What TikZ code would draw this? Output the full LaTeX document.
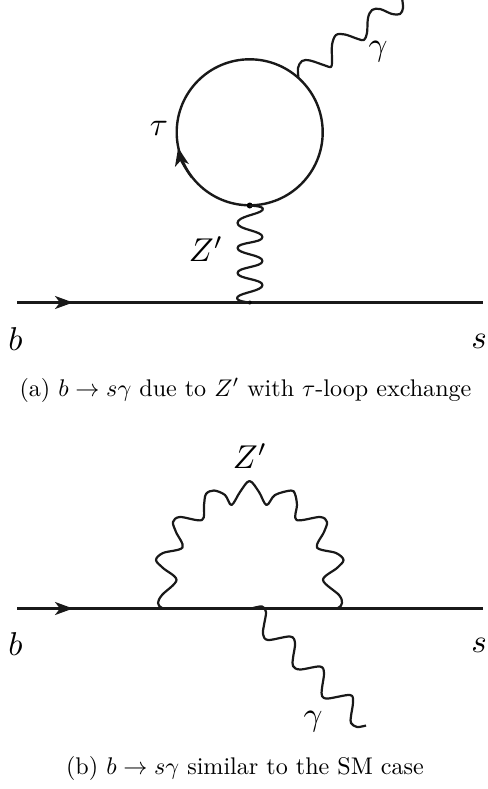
\documentclass[tikz,border=0pt]{standalone}
\usetikzlibrary{arrows.meta}
\tikzset{
  wire/.style={line width=2.4pt,black!90},
  boson/.style={line width=2.2pt,black!90,line join=round},
  lab/.style={inner sep=0pt,scale=3.3},
  captext/.style={inner sep=0pt,scale=2.41}
}
\begin{document}
\begin{tikzpicture}[x=1pt,y=-1pt]
\useasboundingbox (0,0) rectangle (487,789);
% --- top diagram
\coordinate (a1) at (17,302.5);
\coordinate (a2) at (483,302.5);
\coordinate (am) at (73,302.5);
\draw[wire] (a1) -- (a2);
\draw[wire,-{Stealth[length=18pt,width=13pt,inset=5pt]}] (a1) -- (am);
\coordinate (c) at (249.7,132.3);
\draw[wire] (c) circle (73);
\draw[wire,-{Stealth[length=18pt,width=14pt,inset=5pt]}] (192,177.5) arc[start angle=142,end angle=168,radius=73];
\fill (249.7,205.5) circle (3);
\fill (249.7,302.5) circle (2);
% Z' wiggle
\draw[boson] plot[smooth,tension=0.9] coordinates {(249.7,205.7)(262.5,210)(237.5,223)(262.5,237)(237.5,248)(262.5,261)(237.5,273)(262.5,285)(237.5,297)(249.7,302.5)};
% photon top
\draw[boson] plot[smooth,tension=0.55] coordinates {(298.5,78)(298,68)(302,61)(310,60.5)(325,65.5)(331,67)(332,61)(332,45)(336,35)(345,34.5)(358,39)(364,40)(367,33)(368,18)(372,10)(380,9)(392,14)(400,14)(403,8)(402,-2)};
% --- bottom diagram
\coordinate (b1) at (17,608.5);
\coordinate (b2) at (483,608.5);
\coordinate (bm) at (73,608.5);
\draw[wire] (b1) -- (b2);
\draw[wire,-{Stealth[length=18pt,width=13pt,inset=5pt]}] (b1) -- (bm);
\draw[boson] plot[smooth,tension=0.55] coordinates {(172,608.5)(162,608)(158,603)(162,595)(176.5,580)(163,568)(156,560)(163,553)(182.5,547.5)(176,532)(173,522)(180,517)(202,520)(204,505)(206,494)(214,490.5)(225,495)(231.5,505)(240,492)(249.5,481)(259,492)(266.5,505)(275,495)(291,490.5)(295,494)(297,505)(296.5,520)(320,517)(327,522)(324,532)(317,547.5)(336,553)(343.5,560)(337,568)(323,580)(339,595)(342,603)(338,608)(327,608.5)};
\draw[boson] plot[smooth,tension=0.55] coordinates {(251.5,608.5)(262,606.5)(266,612)(264,625)(263,634)(268,640)(290,636.5)(295,643)(293,658)(293,666)(300,669.5)(320,666.5)(324,673)(322,688)(322,696)(328,698.5)(350,695)(353,702)(351,716)(351,723)(357,727)(366,725.5)};
% --- labels
\node[lab] (lb1) at (15.5,339) {$b$};
\node[lab] (ls1) at (479,341) {$s$};
\node[lab] (lt) at (159,128) {$\tau$};
\node[lab] (lz1) at (206,249) {$Z'$};
\node[lab] (lg1) at (378,52) {$\gamma$};
\node[captext] (ca) at (245.5,390) {(a) $b\to s\gamma$ due to $Z'$ with $\tau$-loop exchange};
\node[lab] (lb2) at (15.5,644) {$b$};
\node[lab] (ls2) at (479,645) {$s$};
\node[lab] (lz2) at (250,456) {$Z'$};
\node[lab] (lg2) at (313,722) {$\gamma$};
\node[captext] (cb) at (245,768) {(b) $b\to s\gamma$ similar to the SM case};
\end{tikzpicture}
\end{document}
